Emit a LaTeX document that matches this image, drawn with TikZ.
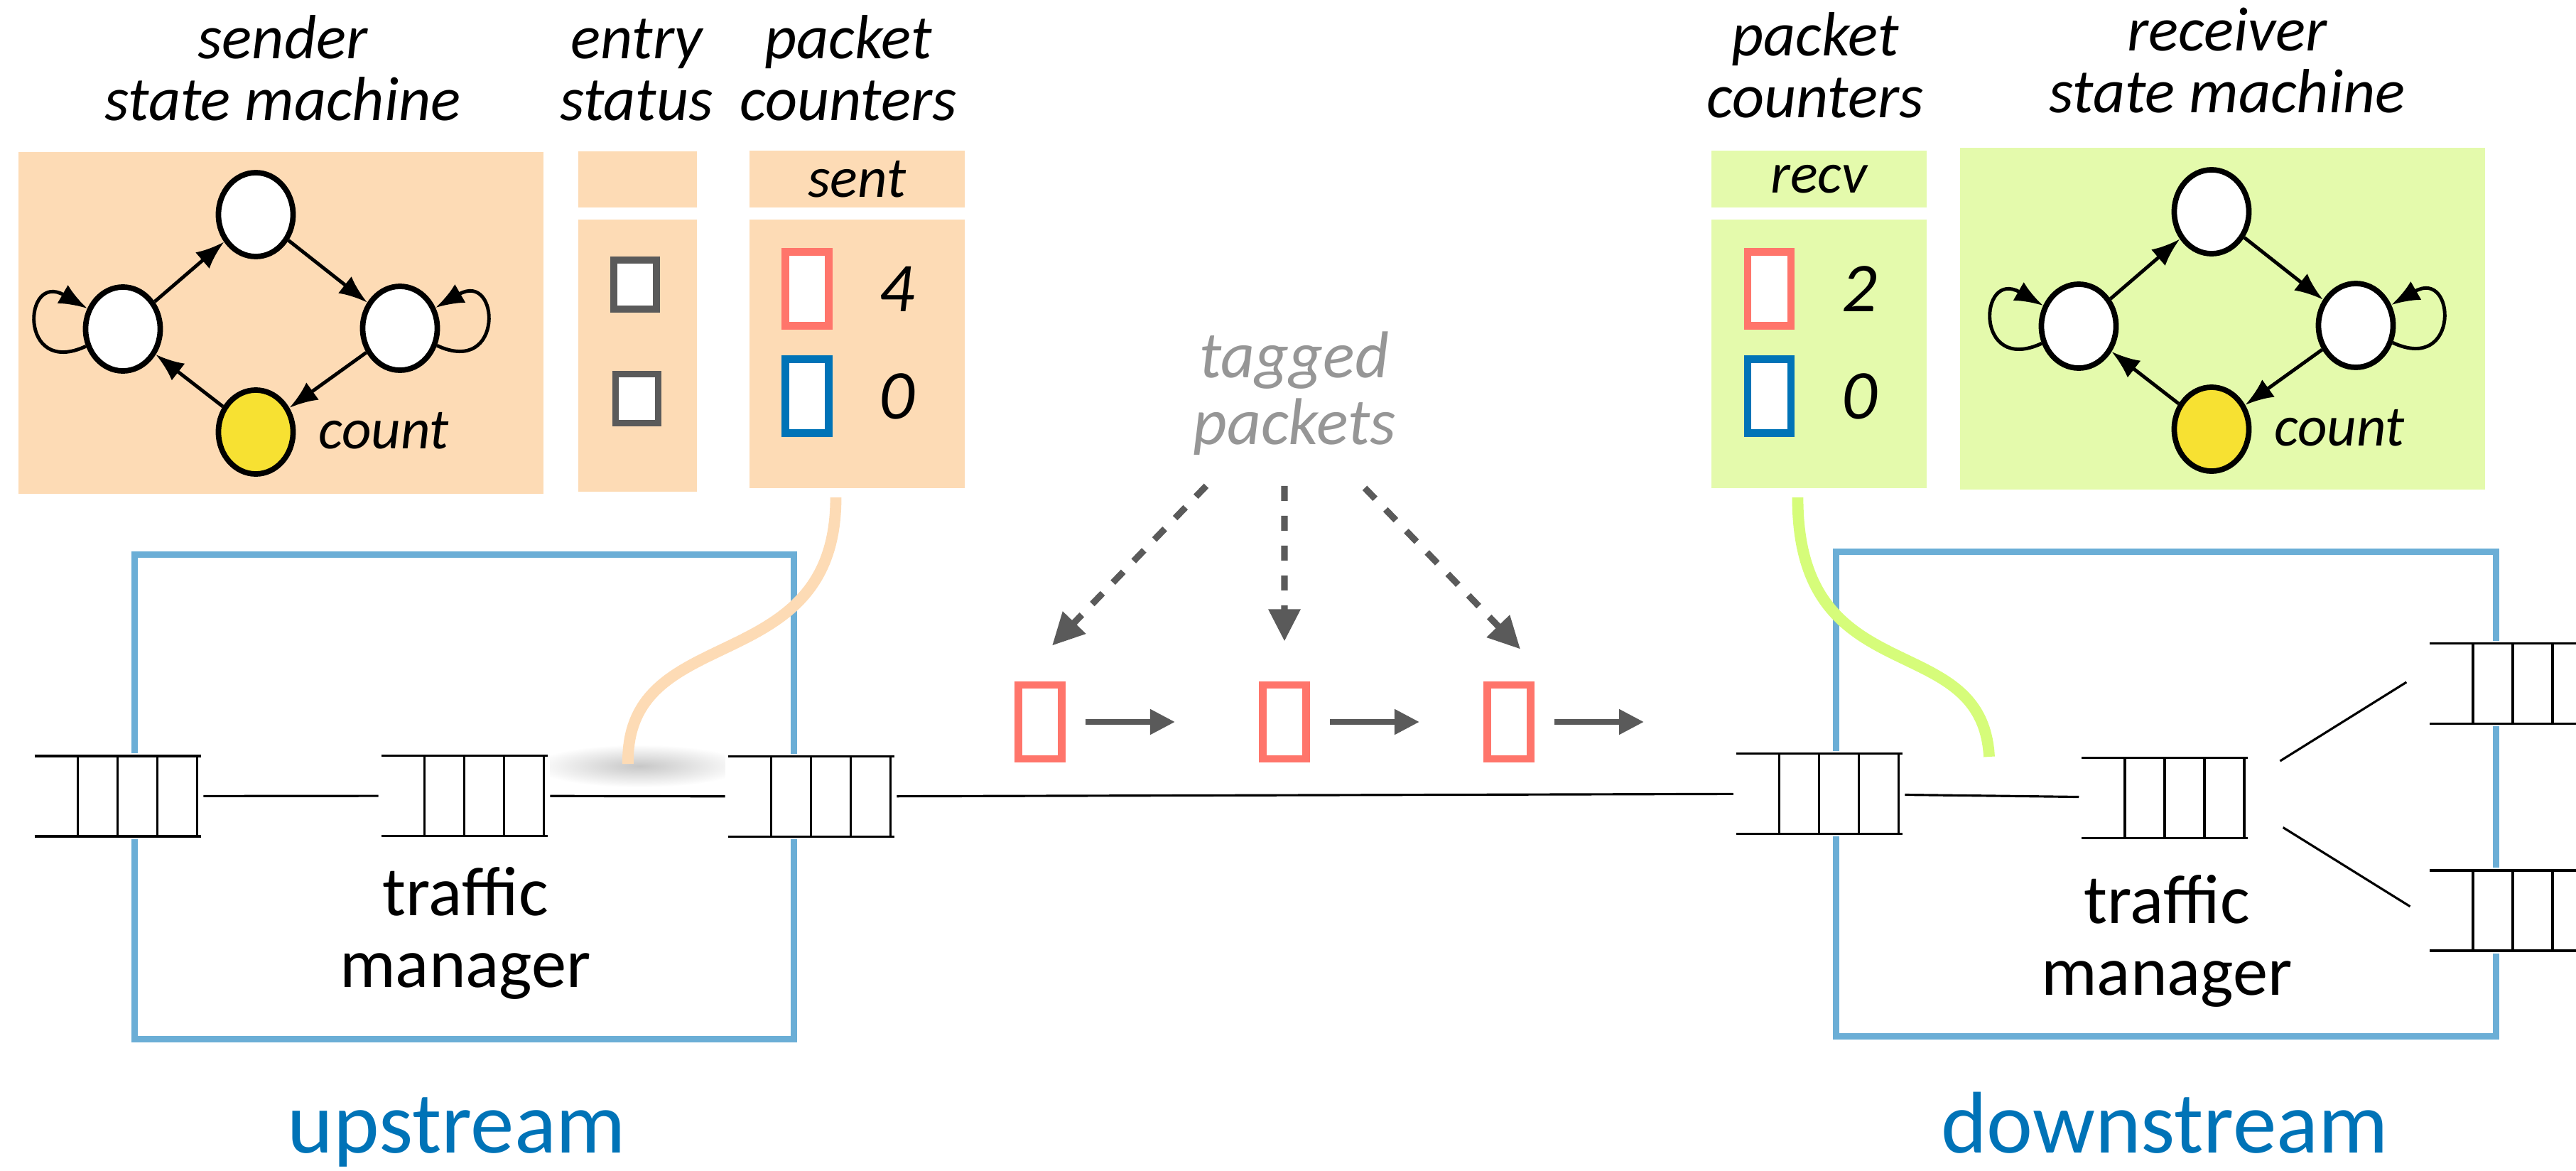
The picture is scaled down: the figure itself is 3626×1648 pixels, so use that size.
\documentclass[tikz,border=0pt]{standalone}
\usepackage{fontspec}
\setmainfont{Carlito}
\usepackage{tikz}
\usetikzlibrary{arrows.meta,positioning,shapes.geometric}
\definecolor{mypeach}{RGB}{253,219,181}
\definecolor{mygreen}{RGB}{228,250,172}
\definecolor{mylime}{RGB}{214,252,122}
\definecolor{myyellow}{RGB}{247,225,50}
\definecolor{myred}{RGB}{255,117,107}
\definecolor{myblue}{RGB}{0,115,183}
\definecolor{myskyblue}{RGB}{107,174,214}
\definecolor{mygray}{RGB}{90,90,90}
\definecolor{mylightgray}{RGB}{150,150,150}
\tikzstyle{panel}=[inner sep=0pt,outer sep=0pt]
\tikzstyle{smstate}=[draw,fill=white,ellipse,minimum width=1.05cm,minimum height=1.18cm,inner sep=0pt,line width=2.2pt]
\tikzstyle{smedge}=[line width=1.4pt,-{Latex[length=0.4cm,width=0.3cm]}]
\tikzstyle{heading}=[font=\fontsize{25}{24.6}\selectfont\itshape,align=center,inner sep=0pt,anchor=base]
\tikzstyle{lbl}=[font=\fontsize{23}{23}\selectfont\itshape,inner sep=0pt]
\tikzstyle{num}=[font=\fontsize{28}{28}\selectfont\itshape,inner sep=0pt]
\tikzstyle{pkt}=[draw,fill=white,line width=3.1pt,minimum width=0.61cm,minimum height=1.04cm,inner sep=0pt]
\tikzstyle{entrybox}=[draw=mygray,fill=white,line width=2.8pt,minimum width=0.6cm,minimum height=0.69cm,inner sep=0pt]
\tikzstyle{queue}=[fill=white,minimum width=2.4cm,minimum height=1.2cm,inner sep=0pt,
  path picture={\begin{scope}[shift={(path picture bounding box.center)},line width=0.9pt]
    \draw (-117,-56.5) -- (117,-56.5) (-117,56.5) -- (117,56.5);
    \foreach \qx in {-56,0,56,112} \draw (\qx,-56.5) -- (\qx,56.5);
  \end{scope}}]
\tikzstyle{conn}=[line width=0.9pt]
\tikzstyle{tm}=[font=\fontsize{28}{28.7}\selectfont,align=center,inner sep=0pt,anchor=base]
\tikzstyle{sidelabel}=[font=\fontsize{35}{35}\selectfont,text=myblue,inner sep=0pt,anchor=base]
\tikzstyle{switchbox}=[draw=myskyblue,line width=2.5pt,minimum width=9.28cm,minimum height=6.82cm]
\tikzstyle{tagline}=[mygray,line width=2.6pt,dash pattern=on 0.21cm off 0.21cm,-{Triangle[length=0.45cm,width=0.43cm]}]
\tikzstyle{pktarrow}=[mygray,line width=2.3pt,-{Triangle[length=0.35cm,width=0.34cm]}]
\tikzstyle{tap}=[line width=4.5pt]

\begin{document}
\begin{tikzpicture}[x=0.01cm,y=-0.01cm]
\useasboundingbox (0,0) rectangle (3626,1648);

\node[panel,fill=mypeach,minimum width=7.39cm,minimum height=4.81cm] (sm1) at (395.5,454.5) {};
\node[panel,fill=mypeach,minimum width=1.67cm,minimum height=0.79cm] (es0) at (897.5,252.5) {};
\node[panel,fill=mypeach,minimum width=1.67cm,minimum height=3.83cm] (es1) at (897.5,500.5) {};
\node[panel,fill=mypeach,minimum width=3.03cm,minimum height=0.8cm,lbl] (sent) at (1206.5,252) {sent};
\node[panel,fill=mypeach,minimum width=3.03cm,minimum height=3.78cm] (cnt1) at (1206.5,498) {};
\node[panel,fill=mygreen,minimum width=3.03cm,minimum height=0.8cm,lbl] (recv) at (2560.5,252) {recv};
\node[panel,fill=mygreen,minimum width=3.03cm,minimum height=3.78cm] (cnt2) at (2560.5,498) {};
\node[panel,fill=mygreen,minimum width=7.39cm,minimum height=4.81cm] (sm2) at (3128.5,448.5) {};

\node[heading] (t1) at (398,169) {sender\\state machine};
\node[heading] (t2) at (896,169) {entry\\status};
\node[heading] (t3) at (1194,169) {packet\\counters};
\node[heading] (t4) at (2555,165) {packet\\counters};
\node[heading] (t5) at (3135,158) {receiver\\state machine};

\foreach \nm/\sx/\sy in {a/0/0,b/2753/-4}{
  \begin{scope}[shift={(\sx,\sy)}]
    \node[smstate] (\nm1) at (360,302) {};
    \node[smstate] (\nm2) at (173,463) {};
    \node[smstate] (\nm3) at (563,462) {};
    \node[smstate,fill=myyellow] (\nm4) at (360,608) {};
    \node[lbl] (\nm5) at (540,606) {count};
  \end{scope}
  \draw[smedge] (\nm2) -- (\nm1);
  \draw[smedge] (\nm1) -- (\nm3);
  \draw[smedge] (\nm3) -- (\nm4);
  \draw[smedge] (\nm4) -- (\nm2);
  \draw[smedge] (\nm2) to[out=205,in=150,distance=1.05cm] (\nm2);
  \draw[smedge] (\nm3) to[out=-25,in=30,distance=1.05cm] (\nm3);
}

\node[entrybox] (e1) at (894,400.5) {};
\node[entrybox] (e2) at (896.5,561) {};
\node[pkt,draw=myred] (c1a) at (1136,406.5) {};
\node[pkt,draw=myblue] (c1b) at (1136,557.5) {};
\node[num,right=0.65cm of c1a] (n1a) {4};
\node[num,right=0.65cm of c1b] (n1b) {0};
\node[pkt,draw=myred] (c2a) at (2490.5,406.5) {};
\node[pkt,draw=myblue] (c2b) at (2490.5,557.5) {};
\node[num,right=0.65cm of c2a] (n2a) {2};
\node[num,right=0.65cm of c2b] (n2b) {0};

\node[switchbox] (up) at (653.5,1121.5) {};
\node[switchbox] (down) at (3049,1117.5) {};
\shade[inner color=black!22,outer color=white] (900,1078) ellipse (150 and 30);

\node[queue] (q1) at (165.5,1120.5) {};
\node[queue] (q2) at (653.5,1120) {};
\node[queue] (q3) at (1141.5,1121) {};
\node[queue] (d1) at (2560.5,1117) {};
\node[queue] (d2) at (3047,1123) {};
\node[queue] (d3) at (3537,962) {};
\node[queue] (d4) at (3537,1281.5) {};
\draw[conn] (q1) -- (q2);
\draw[conn] (q2) -- (q3);
\draw[conn] (q3) -- (d1);
\draw[conn] (d1) -- (d2);
\draw[conn,shorten <=0.49cm,shorten >=0.34cm] ([yshift=0.26cm]d2.east) -- ([yshift=0.2cm]d3.west);
\draw[conn,shorten <=0.54cm,shorten >=0.28cm] ([yshift=-0.13cm]d2.east) -- ([yshift=-0.09cm]d4.west);

\node[tm] (tm1) at (655,1389) {traffic\\manager};
\node[tm] (tm2) at (3050,1400) {traffic\\manager};
\node[sidelabel] (us) at (643,1622) {upstream};
\node[sidelabel] (ds) at (3047,1622) {downstream};

\node[heading,font=\fontsize{26.5}{26.5}\selectfont\itshape,text=mylightgray] (tag) at (1822,625) {tagged\\packets};
\node[pkt,draw=myred] (p1) at (1464,1016) {};
\node[pkt,draw=myred] (p2) at (1808,1016) {};
\node[pkt,draw=myred] (p3) at (2124,1016) {};
\draw[tagline] ([xshift=-1.24cm,yshift=-0.43cm]tag.south) -- ([xshift=0.17cm,yshift=0.5cm]p1.north);
\draw[tagline] ([xshift=-0.14cm,yshift=-0.43cm]tag.south) -- ([yshift=0.56cm]p2.north);
\draw[tagline] ([xshift=0.99cm,yshift=-0.46cm]tag.south) -- ([xshift=0.16cm,yshift=0.45cm]p3.north);
\coordinate (f1) at (1654,1016);
\coordinate (f2) at (1998,1016);
\coordinate (f3) at (2314,1016);
\draw[pktarrow,shorten <=0.28cm] (p1.east) -- (f1);
\draw[pktarrow,shorten <=0.28cm] (p2.east) -- (f2);
\draw[pktarrow,shorten <=0.28cm] (p3.east) -- (f3);

\coordinate (tap1) at (884,1075);
\coordinate (tap2) at (2800,1065);
\draw[tap,mypeach] ([xshift=-0.3cm,yshift=-0.13cm]cnt1.south) .. controls (1177,960) and (880,870) .. (tap1);
\draw[tap,mylime] ([xshift=-0.3cm,yshift=-0.13cm]cnt2.south) .. controls (2530,980) and (2790,880) .. (tap2);
\end{tikzpicture}
\end{document}
